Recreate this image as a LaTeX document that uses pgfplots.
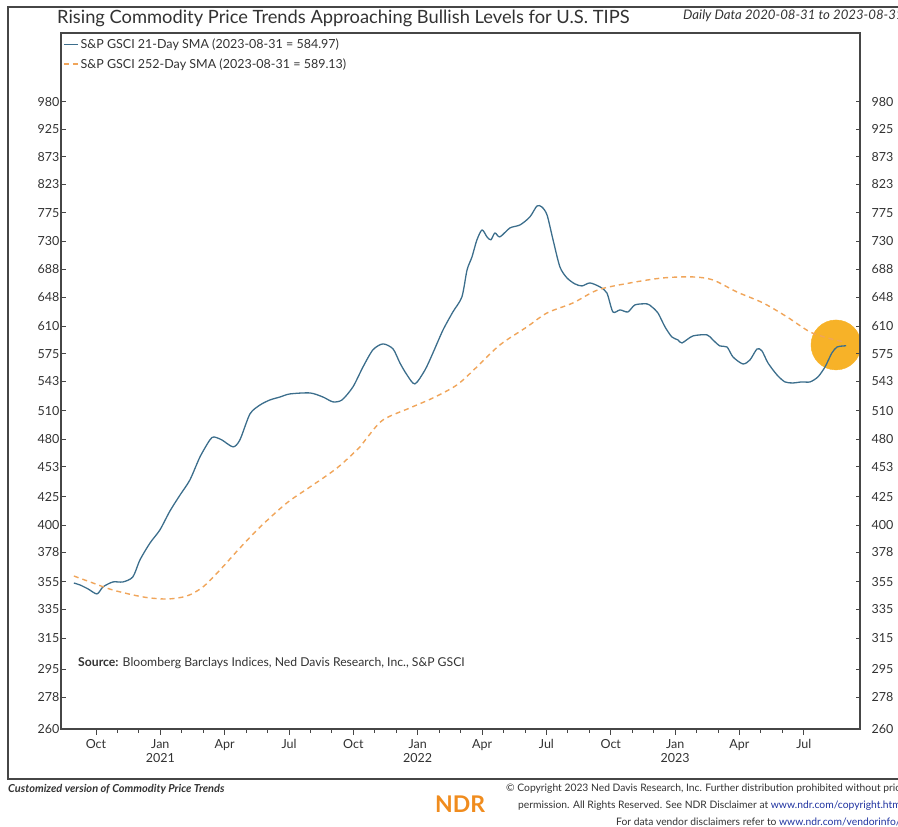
\documentclass[border=0pt]{standalone}
\usepackage{pgfplots}
\pgfplotsset{compat=1.18}
\usepackage{fontspec}
\setmainfont{Lato}

\definecolor{gsciblue}{RGB}{60,110,140}
\definecolor{gsciorange}{RGB}{240,165,90}
\definecolor{hilite}{RGB}{247,178,40}
\definecolor{ndrorange}{RGB}{240,140,30}
\definecolor{urlblue}{RGB}{30,50,160}
\definecolor{framegray}{RGB}{70,70,70}
\definecolor{textgray}{RGB}{50,50,50}

\begin{document}
\begin{tikzpicture}[x=1pt,y=1pt]
\useasboundingbox (0,0) rectangle (898,827);
\draw[framegray, line width=1.2pt] (8,48) rectangle (930,820);

\node[anchor=west, inner sep=0pt, text=textgray, font=\fontsize{18.3}{21}\selectfont] at (57,809)
  {Rising Commodity Price Trends Approaching Bullish Levels for U.S. TIPS};
\node[anchor=west, inner sep=0pt, text=textgray, font=\fontsize{13.2}{15}\selectfont\itshape] at (683,811)
  {Daily Data 2020-08-31 to 2023-08-31};

% main axis: data, month ticks
\begin{axis}[
  at={(61pt,98pt)}, anchor=south west,
  scale only axis, width=799pt, height=696pt,
  xmin=7.37, xmax=44.62,
  ymode=log, ymin=260, ymax=1134,
  axis line style={framegray, line width=1.1pt},
  tick style={framegray, line width=0.9pt},
  tick label style={font=\fontsize{12.5}{14}\selectfont, text=textgray},
  ymajorticks=false, yminorticks=false,
  xtick={9,12,15,18,21,24,27,30,33,36,39,42},
  xticklabels={Oct,{Jan\\2021},Apr,Jul,Oct,{Jan\\2022},Apr,Jul,Oct,{Jan\\2023},Apr,Jul},
  xticklabel style={align=center, yshift=-1pt},
  minor x tick num=2,
  xtick pos=left,
  tick align=outside,
  major tick length=6pt, minor tick length=4pt,
  clip marker paths=true,
  legend style={at={(0,1)}, anchor=north west, xshift=1pt, yshift=-3pt,
    draw=none, fill=none, font=\fontsize{12.5}{14}\selectfont, text=textgray,
    row sep=4pt, inner sep=1pt},
  legend cell align=left,
  legend image code/.code={\draw[#1] (0pt,0pt) -- (14pt,0pt);},
]
\addplot[only marks, mark=*, mark size=25pt, color=hilite, forget plot]
  coordinates {(43.50,586)};
\addplot[gsciblue, line width=1.3pt, line join=round, smooth, tension=0.45]
  coordinates {
  (7.97,354.1)(8.25,352.7)(8.63,349.7)(9.05,346.0)(9.33,351.2)(9.79,354.9)(10.26,354.9)
  (10.72,358.7)(11.05,371.8)(11.52,385.4)(11.98,396.2)(12.45,412.4)(12.92,426.6)(13.38,440.4)
  (13.85,462.4)(14.31,479.3)(14.50,482.3)(14.87,479.3)(15.39,472.3)(15.71,479.3)(16.18,506.4)
  (16.65,516.1)(17.11,521.6)(17.58,524.9)(18.04,528.3)(18.98,529.4)(19.58,524.9)(20.05,519.5)
  (20.47,521.6)(20.98,536.2)(21.45,559.4)(21.91,579.9)(22.38,587.3)(22.85,581.1)(23.17,564.1)
  (23.50,550.0)(23.87,539.6)(24.34,555.8)(24.71,576.2)(25.18,604.9)(25.64,628.4)(26.06,648.7)
  (26.30,686.8)(26.53,706.0)(26.76,731.9)(27.00,747.5)(27.23,736.6)(27.41,731.9)(27.60,742.8)
  (27.83,736.6)(28.30,750.7)(28.77,755.5)(29.23,768.4)(29.56,786.5)(29.79,784.8)(30.03,771.6)
  (30.31,731.9)(30.63,691.2)(30.96,675.3)(31.33,666.8)(31.66,664.0)(32.03,668.2)(32.50,662.5)
  (32.82,654.2)(33.10,628.4)(33.43,631.1)(33.80,628.4)(34.13,637.9)(34.69,639.2)(34.92,635.1)
  (35.20,627.1)(35.53,608.8)(35.85,596.0)(36.13,592.3)(36.32,588.5)(36.83,597.3)(37.49,598.6)
  (37.76,592.3)(38.09,584.7)(38.42,583.5)(38.70,571.3)(39.16,562.9)(39.49,567.7)(39.82,581.1)
  (40.05,578.6)(40.33,564.1)(40.75,550.0)(41.12,541.9)(41.49,540.7)(41.91,541.9)(42.29,541.9)
  (42.66,547.7)(42.99,559.4)(43.31,576.2)(43.55,583.5)(43.83,584.7)(43.97,584.97)
  };
\addlegendentry{S\&P GSCI 21-Day SMA (2023-08-31 = 584.97)}
\addplot[gsciorange, line width=1.4pt, dash pattern=on 5pt off 4pt, smooth]
  coordinates {
  (7.97,359.4)(8.86,354.1)(9.79,348.9)(11.19,343.8)(12.31,342.3)(13.24,344.5)(13.99,351.2)
  (14.78,364.0)(15.71,381.4)(16.65,398.7)(17.90,419.5)(18.98,433.9)(20.24,451.7)(21.31,472.3)
  (21.63,481.3)(22.38,500.0)(23.64,512.9)(24.71,523.8)(25.83,538.5)(26.76,559.4)(27.83,586.0)
  (29.09,608.8)(30.03,627.1)(31.24,640.5)(32.40,658.4)(33.90,668.2)(35.43,675.3)(36.83,676.7)
  (37.76,672.5)(38.88,655.6)(40.10,640.5)(41.22,621.8)(42.29,602.4)(43.22,594.0)(43.97,589.13)
  };
\addlegendentry{S\&P GSCI 252-Day SMA (2023-08-31 = 589.13)}
\end{axis}

% left value scale
\begin{axis}[
  at={(61pt,98pt)}, anchor=south west,
  scale only axis, width=799pt, height=696pt,
  xmin=7.37, xmax=44.62,
  ymode=log, ymin=260, ymax=1134,
  axis line style={framegray, line width=1.1pt},
  tick style={framegray, line width=0.9pt},
  tick label style={font=\fontsize{12.5}{14}\selectfont, text=textgray},
  hide x axis, axis y line*=left,
  ytick={260,278,295,315,335,355,378,400,425,453,480,510,543,575,610,648,688,730,775,823,873,925,980},
  yticklabels={260,278,295,315,335,355,378,400,425,453,480,510,543,575,610,648,688,730,775,823,873,925,980},
  yminorticks=false,
  tick align=inside, major tick length=4.5pt,
  yticklabel style={xshift=2pt},
]
\addplot[draw=none, forget plot] coordinates {(10,300)};
\end{axis}

% right value scale
\begin{axis}[
  at={(61pt,98pt)}, anchor=south west,
  scale only axis, width=799pt, height=696pt,
  xmin=7.37, xmax=44.62,
  ymode=log, ymin=260, ymax=1134,
  axis line style={framegray, line width=1.1pt},
  tick style={framegray, line width=0.9pt},
  tick label style={font=\fontsize{12.5}{14}\selectfont, text=textgray},
  hide x axis, axis y line*=right,
  ytick={260,278,295,315,335,355,378,400,425,453,480,510,543,575,610,648,688,730,775,823,873,925,980},
  yticklabels={260,278,295,315,335,355,378,400,425,453,480,510,543,575,610,648,688,730,775,823,873,925,980},
  yminorticks=false,
  tick align=inside, major tick length=4.5pt,
  yticklabel style={xshift=8pt},
]
\addplot[draw=none, forget plot] coordinates {(10,300)};
\end{axis}

\node[anchor=west, inner sep=0pt, text=textgray, font=\fontsize{12.2}{14}\selectfont] at (78,164)
  {\textbf{Source:} Bloomberg Barclays Indices, Ned Davis Research, Inc., S\&P GSCI};

\node[anchor=west, inner sep=0pt, text=textgray, font=\fontsize{11}{12}\selectfont\bfseries\itshape] at (8,38)
  {Customized version of Commodity Price Trends};
\node[anchor=west, inner sep=0pt, text=ndrorange, font=\fontsize{23}{24}\selectfont\bfseries] at (435,23)
  {NDR};
\node[anchor=west, inner sep=0pt, text=textgray, font=\fontsize{10.3}{12}\selectfont] at (506,38)
  {\textcopyright{} Copyright 2023 Ned Davis Research, Inc. Further distribution prohibited without prior};
\node[anchor=west, inner sep=0pt, text=textgray, font=\fontsize{10.3}{12}\selectfont] at (518,21)
  {permission. All Rights Reserved. See NDR Disclaimer at \textcolor{urlblue}{www.ndr.com/copyright.html}};
\node[anchor=west, inner sep=0pt, text=textgray, font=\fontsize{10.3}{12}\selectfont] at (616,5)
  {For data vendor disclaimers refer to \textcolor{urlblue}{www.ndr.com/vendorinfo/}};
\end{tikzpicture}
\end{document}
